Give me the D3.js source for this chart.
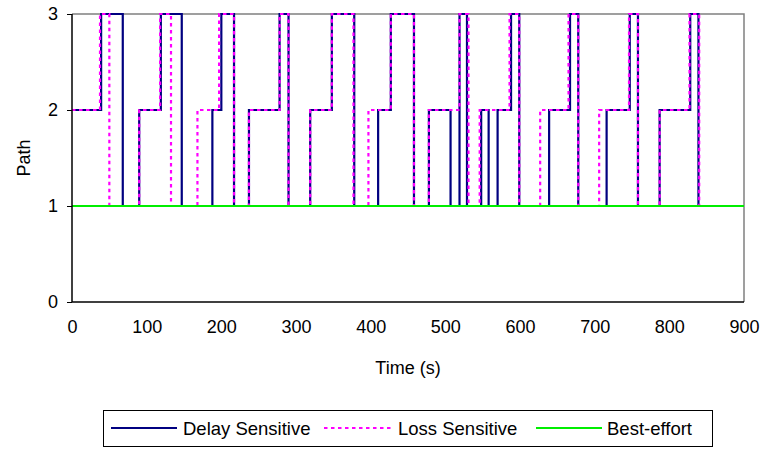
<!DOCTYPE html>
<html><head><meta charset="utf-8">
<script src="https://cdn.jsdelivr.net/npm/d3@7/dist/d3.min.js"></script>
<style>body{margin:0;background:#fff}svg{display:block}text{font-family:Arial,"Liberation Sans",sans-serif;fill:#000}</style>
</head><body><svg id="c" width="762" height="450"></svg>
<script>
const delayTimes  = [0,39,68,90,119,147,188,200,217,237,278,290,319,348,378,410,427,458,478,507,519,529,548,558,570,588,599,639,667,678,716,747,758,787,828,839,900];
const delayValues = [2,3,1,2,3,1,2,3,1,2,3,1,2,3,1,2,3,1,2,1,3,1,2,1,2,3,1,2,3,1,2,3,1,2,3,1,1];
const lossTimes   = [0,37.5,50,90,118,132.6,168,197,217,237,278,290,319,348,377,397,427,458,478,519,531,546,586,599,627,665,678,706,746,758,787,827,840,900];
const lossValues  = [2,3,1,2,3,1,2,3,1,2,3,1,2,3,1,2,3,1,2,3,1,2,3,1,2,3,1,2,3,1,2,3,1,1];
const bestTimes   = [0,900];
const bestValues  = [1,1];
const xTicks = [0,100,200,300,400,500,600,700,800,900];
const yTicks = [0,1,2,3];
const seriesNames = ["Delay Sensitive","Loss Sensitive","Best-effort"];

const svg = d3.select("#c");
const L=72,R=744,T=14,B=302;
const x = d3.scaleLinear().domain([0,900]).range([L,R]);
const y = d3.scaleLinear().domain([0,3]).range([B,T]);

svg.append("path").attr("d",`M${L},${T}H${R}V${B}`).attr("fill","none").attr("stroke","#808080").attr("stroke-width",1.5);

const zip=(ts,vs)=>ts.map((t,i)=>[t,vs[i]]);
const line=d3.line().x(d=>x(d[0])).y(d=>y(d[1])).curve(d3.curveStepAfter);
const series=[
  {d:zip(delayTimes,delayValues),c:"#000080",dash:null,w:2.2},
  {d:zip(lossTimes,lossValues),c:"#FF00FF",dash:"3.5,3.5",w:2.2},
  {d:zip(bestTimes,bestValues),c:"#00EE00",dash:null,w:2}
];
series.forEach(s=>{
  svg.append("path").attr("d",line(s.d)).attr("fill","none").attr("stroke",s.c)
    .attr("stroke-width",s.w).attr("stroke-dasharray",s.dash);
});

const ya=svg.append("g").attr("transform",`translate(${L},0)`)
  .call(d3.axisLeft(y).tickValues(yTicks).tickFormat(d3.format("d")).tickSize(5).tickPadding(9));
ya.select(".domain").attr("stroke","#000").attr("stroke-width",1.5).attr("d",`M0,${T}V${B}`);
ya.selectAll(".tick line").attr("stroke","#000");
ya.selectAll("text").attr("font-size",18).style("font-family","Arial, 'Liberation Sans', sans-serif");

const xa=svg.append("g").attr("transform",`translate(0,${B})`)
  .call(d3.axisBottom(x).tickValues(xTicks).tickFormat(d3.format("d")).tickSize(0).tickPadding(18));
xa.select(".domain").attr("stroke","#000").attr("stroke-width",1.5).attr("d",`M${L},0H${R}`);
xa.selectAll("text").attr("font-size",18).style("font-family","Arial, 'Liberation Sans', sans-serif");

svg.append("text").attr("x",(L+R)/2).attr("y",374).attr("text-anchor","middle").attr("font-size",18).text("Time (s)");
svg.append("text").attr("transform",`translate(30,${(T+B)/2}) rotate(-90)`).attr("text-anchor","middle").attr("font-size",18).text("Path");

svg.append("rect").attr("x",103.5).attr("y",410.5).attr("width",609).attr("height",36).attr("fill","#fff").attr("stroke","#000").attr("stroke-width",1);
const lx=[[111,177,183],[324,393,398],[536,602,607]];
series.forEach((s,i)=>{
  svg.append("line").attr("x1",lx[i][0]).attr("x2",lx[i][1]).attr("y1",428).attr("y2",428)
    .attr("stroke",s.c).attr("stroke-width",2).attr("stroke-dasharray",s.dash);
  svg.append("text").attr("x",lx[i][2]).attr("y",434.5).attr("font-size",18.5).text(seriesNames[i]);
});
</script></body></html>
